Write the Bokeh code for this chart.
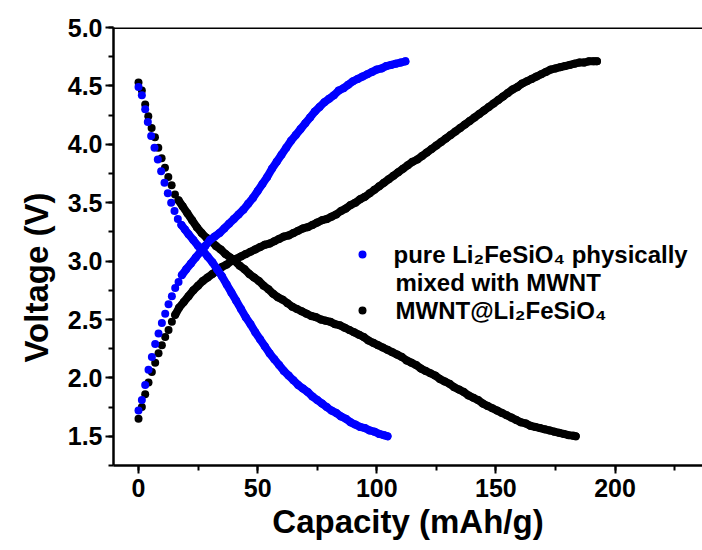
import math
from bokeh.plotting import figure
from bokeh.models import SingleIntervalTicker, NumeralTickFormatter, Label, Title, Span
from bokeh.embed import file_html
from bokeh.resources import INLINE

# ---------------- data ----------------
series_names = ["pure Li\u2082FeSiO\u2084 physically\nmixed with MWNT", "MWNT@Li\u2082FeSiO\u2084"]

# pure Li2FeSiO4 physically mixed with MWNT - discharge
blue_dis_cap = [0, 1.4, 2.8, 3.9, 5.3, 6.7, 8.1, 9.5, 10.9, 12.3, 13.7, 15.1, 16.5, 18.0,
                19.5, 21,
                23, 25, 27, 29, 31, 33, 35, 37, 39, 41,
                43, 45, 47, 49, 51, 53, 55, 57, 59, 61,
                63, 65, 67, 69, 71, 73, 75, 77, 79, 81,
                83, 85, 87, 89, 91, 93, 95, 97, 99, 101,
                103, 104.5]
blue_dis_v = [4.49, 4.42, 4.30, 4.19, 4.07, 3.97, 3.87, 3.77, 3.67, 3.58, 3.50, 3.43, 3.36, 3.31,
              3.27, 3.23,
              3.18, 3.13, 3.09, 3.04, 2.99, 2.93, 2.87, 2.80, 2.73, 2.66,
              2.59, 2.52, 2.46, 2.39, 2.33, 2.27, 2.21, 2.16, 2.11, 2.06,
              2.02, 1.98, 1.94, 1.91, 1.88, 1.84, 1.81, 1.78, 1.75, 1.72,
              1.70, 1.67, 1.65, 1.62, 1.60, 1.58, 1.57, 1.55, 1.54, 1.52,
              1.51, 1.50]

# pure Li2FeSiO4 physically mixed with MWNT - charge
blue_chg_cap = [0, 1.4, 2.8, 4.2, 5.6, 7.0, 8.4, 9.8, 11.2, 12.6, 14.0, 15.4, 16.8, 18.2,
                20, 22, 24, 26, 28, 30, 32, 34, 36, 38,
                40, 42, 44, 46, 48, 50, 52, 54, 56, 58,
                60, 62, 64, 66, 68, 70, 72, 74, 76, 78,
                80, 82, 84, 86, 88, 90, 92, 94, 96, 98,
                100, 102, 104, 106, 108, 110, 112]
blue_chg_v = [1.72, 1.81, 1.94, 2.07, 2.18, 2.29, 2.38, 2.47, 2.55, 2.63, 2.70, 2.77, 2.82, 2.88,
              2.93, 2.98, 3.03, 3.08, 3.13, 3.18, 3.21, 3.24, 3.28, 3.32,
              3.36, 3.40, 3.44, 3.49, 3.54, 3.60, 3.66, 3.72, 3.79, 3.85,
              3.91, 3.97, 4.03, 4.08, 4.13, 4.18, 4.23, 4.28, 4.32, 4.36,
              4.39, 4.42, 4.46, 4.48, 4.51, 4.54, 4.56, 4.58, 4.60, 4.62,
              4.64, 4.65, 4.67, 4.68, 4.69, 4.70, 4.71]

# MWNT@Li2FeSiO4 - discharge
black_dis_cap = [0, 1.4, 2.8, 4.1, 5.5, 6.9, 8.3, 9.7, 11.1, 12.5, 13.9, 15.3, 16.8,
                 18.5, 20.5, 22.5, 24.5, 26.5, 28.5, 30.5, 32.5, 34.5, 36.5,
                 38.5, 40.5, 42.5, 44.5, 46.5, 48.5, 50.5, 52.5, 54.5, 56.5,
                 58.5, 60.5, 62.5, 64.5, 66.5, 68.5, 70.5, 72.5, 74.5, 76.5,
                 78.5, 80.5, 82.5, 84.5, 86.5, 88.5, 90.5, 92.5, 94.5, 96.5,
                 98.5, 100.5, 102.5, 104.5, 106.5, 108.5, 110.5, 112.5, 114.5, 116.5,
                 118.5, 120.5, 122.5, 124.5, 126.5, 128.5, 130.5, 132.5, 134.5, 136.5,
                 138.5, 140.5, 142.5, 144.5, 146.5, 148.5, 150.5, 152.5, 154.5, 156.5,
                 158.5, 160.5, 162.5, 164.5, 166.5, 168.5, 170.5, 172.5, 174.5, 176.5,
                 178.5, 180.5, 182.5, 183.5]
black_dis_v = [4.53, 4.46, 4.34, 4.24, 4.14, 4.06, 3.97, 3.88, 3.80, 3.72, 3.65, 3.57, 3.52,
               3.47, 3.41, 3.35, 3.29, 3.24, 3.20, 3.17, 3.13, 3.10, 3.06,
               3.03, 3.00, 2.96, 2.93, 2.89, 2.86, 2.83, 2.79, 2.76, 2.72,
               2.69, 2.67, 2.64, 2.61, 2.59, 2.57, 2.55, 2.53, 2.52, 2.50,
               2.49, 2.48, 2.46, 2.45, 2.43, 2.41, 2.39, 2.37, 2.35, 2.32,
               2.30, 2.28, 2.26, 2.24, 2.22, 2.20, 2.18, 2.15, 2.13, 2.11,
               2.08, 2.06, 2.04, 2.02, 1.99, 1.97, 1.95, 1.92, 1.90, 1.88,
               1.85, 1.83, 1.81, 1.78, 1.76, 1.74, 1.72, 1.70, 1.68, 1.66,
               1.64, 1.62, 1.61, 1.59, 1.58, 1.57, 1.56, 1.55, 1.54, 1.53,
               1.52, 1.51, 1.505, 1.50]

# MWNT@Li2FeSiO4 - charge
black_chg_cap = [0, 1.4, 2.8, 4.2, 5.6, 7.0, 8.4, 9.8, 11.2, 12.6, 14.0, 15.4,
                 17, 19, 21, 23, 25, 27, 29, 31, 33, 35,
                 37, 39, 41, 43, 45, 47, 49, 51, 53, 55,
                 57, 59, 61, 63, 65, 67, 69, 71, 73, 75,
                 77, 79, 81, 83, 85, 87, 89, 91, 93, 95,
                 97, 99, 101, 103, 105, 107, 109, 111, 113, 115,
                 117, 119, 121, 123, 125, 127, 129, 131, 133, 135,
                 137, 139, 141, 143, 145, 147, 149, 151, 153, 155,
                 157, 159, 161, 163, 165, 167, 169, 171, 173, 175,
                 177, 179, 181, 183, 185, 187, 189, 191, 192.4]
black_chg_v = [1.65, 1.75, 1.86, 1.96, 2.05, 2.13, 2.21, 2.28, 2.35, 2.41, 2.48, 2.54,
               2.60, 2.65, 2.70, 2.75, 2.79, 2.83, 2.86, 2.89, 2.92, 2.95,
               2.97, 3.00, 3.02, 3.04, 3.06, 3.08, 3.10, 3.12, 3.14, 3.15,
               3.17, 3.19, 3.21, 3.22, 3.24, 3.26, 3.28, 3.29, 3.31, 3.33,
               3.35, 3.36, 3.38, 3.40, 3.43, 3.45, 3.48, 3.50, 3.53, 3.55,
               3.58, 3.61, 3.64, 3.67, 3.70, 3.73, 3.76, 3.79, 3.82, 3.85,
               3.87, 3.90, 3.93, 3.96, 3.99, 4.02, 4.05, 4.08, 4.11, 4.14,
               4.17, 4.20, 4.23, 4.26, 4.29, 4.32, 4.35, 4.38, 4.41, 4.44,
               4.47, 4.49, 4.52, 4.54, 4.56, 4.58, 4.60, 4.62, 4.64, 4.65,
               4.66, 4.67, 4.68, 4.69, 4.70, 4.70, 4.71, 4.71, 4.71]

x_label = "Capacity (mAh/g)"
y_label = "Voltage (V)"

# ---------------- layout / style ----------------
W, H = 702, 550
L_B, R_B, T_B, B_B = 113, 0, 27, 85
X0, X1 = -10.5, 236.7
Y0, Y1 = 1.25, 5.0
FW = W - L_B - R_B
FH = H - T_B - B_B
FONT = "Liberation Sans"
BLUE = "#0000FF"
BLACK = "#000000"
MSIZE = 8
TICK_FS = "25px"
AXLAB_FS = "33px"
LEG_FS = "24px"


def px2x(px):
    return X0 + (px - L_B) / FW * (X1 - X0)


def py2y(py):
    return Y1 - (py - T_B) / FH * (Y1 - Y0)


p = figure(width=W, height=H, x_range=(X0, X1), y_range=(Y0, Y1),
           output_backend="svg", toolbar_location=None,
           min_border_left=L_B, min_border_right=R_B,
           min_border_top=T_B, min_border_bottom=B_B,
           background_fill_color="white", border_fill_color="white")
p.outline_line_color = None
p.grid.visible = False

# axes
for ax in (p.xaxis[0], p.yaxis[0]):
    ax.axis_line_width = 2.5
    ax.axis_line_color = "black"
    ax.major_tick_line_width = 2
    ax.minor_tick_line_width = 2
    ax.major_tick_out = 8
    ax.major_tick_in = 0
    ax.minor_tick_out = 5
    ax.minor_tick_in = 0
    ax.major_label_text_font = FONT
    ax.major_label_text_font_style = "bold"
    ax.major_label_text_font_size = TICK_FS
    ax.major_label_text_color = "black"
    ax.major_label_standoff = 3

p.xaxis[0].major_label_standoff = 5
p.xaxis[0].ticker = SingleIntervalTicker(interval=50, num_minor_ticks=2)
p.yaxis[0].ticker = SingleIntervalTicker(interval=0.5, num_minor_ticks=2)
p.yaxis[0].formatter = NumeralTickFormatter(format="0.0")

p.xaxis[0].axis_label = x_label
p.xaxis[0].axis_label_text_font = FONT
p.xaxis[0].axis_label_text_font_style = "bold"
p.xaxis[0].axis_label_text_font_size = AXLAB_FS
p.xaxis[0].axis_label_text_color = "black"
p.xaxis[0].axis_label_standoff = 3

# top frame line
p.add_layout(Span(location=Y1, dimension="width", line_color="black", line_width=3))

# y axis title, sitting a little below the frame centre as in the original
p.add_layout(Title(text=y_label, align="left", offset=103, standoff=20,
                   text_font=FONT, text_font_style="bold",
                   text_font_size=AXLAB_FS, text_color="black"), "left")

# data: dense parts of each curve form a continuous band of dots
series = [
    (black_chg_cap, black_chg_v, BLACK, 11),
    (black_dis_cap, black_dis_v, BLACK, 12),
    (blue_chg_cap, blue_chg_v, BLUE, 13),
    (blue_dis_cap, blue_dis_v, BLUE, 13),
]
for cap, v, col, k in series:
    p.line(cap[k:], v[k:], line_width=MSIZE, color=col,
           line_cap="round", line_join="round")
    p.scatter(cap, v, size=MSIZE, color=col, line_color=None)

# legend
legend_rows = [(254, 393, series_names[0].split("\n")[0], BLUE, True),
               (282, 395, series_names[0].split("\n")[1], BLUE, False),
               (310, 395, series_names[1], BLACK, True)]
for py, px, txt, col, dot in legend_rows:
    if dot:
        p.scatter([px2x(362)], [py2y(py)], size=MSIZE, color=col, line_color=None)
    p.add_layout(Label(x=px2x(px), y=py2y(py), text=txt,
                       text_align="left", text_baseline="middle",
                       text_font=FONT, text_font_style="bold", text_font_size=LEG_FS,
                       text_color="black"))

open("out.html", "w").write(file_html(p, INLINE))
